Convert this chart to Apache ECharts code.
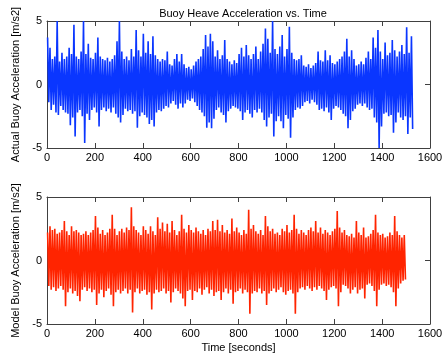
<!DOCTYPE html>
<html><head><meta charset="utf-8">
<script src="https://cdn.jsdelivr.net/npm/echarts@6/dist/echarts.min.js"></script>
<style>html,body{margin:0;padding:0;background:#fff}#c{width:446px;height:358px}</style>
</head><body><div id="c"></div>
<script>
// Bin width in seconds for the envelope readings below
var binSeconds = 10;
var xTicks = [0,200,400,600,800,1000,1200,1400,1600];
var yTicks = [-5,0,5];

// Actual buoy acceleration: per-10s upper peaks (t = 0,10,...,1520)
var actualMax = [3.7,2.9,2.0,2.2,5.0,1.8,2.5,2.0,2.2,2.9,2.4,4.7,2.2,2.0,2.6,5.0,2.4,3.2,2.1,2.0,
2.5,3.7,2.2,2.0,1.9,2.1,1.8,2.0,2.3,3.4,5.0,2.6,2.0,2.2,1.9,2.8,2.2,4.3,2.7,2.2,
4.0,2.5,3.4,2.4,3.8,2.3,2.0,1.8,2.0,1.9,2.6,1.6,1.5,2.0,2.4,1.8,2.4,1.6,1.3,1.4,
1.2,1.5,1.8,2.0,2.2,2.8,3.9,3.0,4.0,3.4,2.2,2.7,2.0,2.3,3.5,2.0,1.8,1.6,1.9,1.7,
2.4,2.9,2.2,3.1,2.3,2.0,2.4,3.0,2.0,2.6,3.2,4.4,3.6,2.5,5.0,2.8,2.4,3.0,3.9,2.2,
2.8,4.55,2.5,2.0,1.9,2.0,2.3,1.5,1.4,1.6,1.3,1.5,1.7,2.6,1.9,1.8,2.7,1.9,2.3,1.7,
1.6,1.8,2.0,2.2,2.6,3.6,2.2,2.7,2.0,1.5,1.6,1.8,1.6,2.1,2.6,2.0,3.7,2.9,4.3,2.6,
2.0,3.3,2.3,2.5,3.5,2.7,2.2,2.6,3.1,2.4,4.5,2.5,3.8];
// Actual buoy acceleration: per-10s lower peaks
var actualMin = [-1.4,-2.0,-1.6,-2.2,-2.4,-1.7,-2.0,-2.2,-2.3,-3.2,-2.6,-4.1,-2.2,-2.0,-2.5,-4.6,-2.3,-2.8,-2.0,-1.8,
-2.2,-3.3,-2.0,-1.8,-2.1,-1.9,-2.2,-1.8,-2.3,-2.6,-3.0,-2.4,-1.9,-2.1,-2.0,-2.3,-2.1,-3.4,-2.5,-2.2,
-2.4,-2.6,-3.1,-2.8,-3.3,-2.2,-2.0,-2.1,-1.9,-1.7,-1.8,-1.5,-1.3,-1.6,-1.9,-1.5,-1.8,-1.5,-1.2,-1.3,
-1.1,-1.4,-1.7,-2.0,-2.2,-2.5,-3.4,-3.0,-3.45,-2.7,-2.0,-1.8,-2.2,-2.4,-3.0,-2.1,-1.9,-1.7,-1.8,-1.9,
-2.1,-2.8,-2.2,-2.0,-2.3,-2.6,-2.0,-2.2,-1.9,-2.2,-2.8,-3.3,-2.6,-2.3,-4.1,-2.9,-2.5,-2.9,-3.45,-2.4,
-2.7,-4.2,-2.6,-2.0,-1.8,-1.9,-1.7,-1.4,-1.3,-1.5,-1.2,-1.4,-1.6,-2.0,-1.9,-2.1,-1.8,-2.2,-2.8,-1.9,
-1.7,-1.8,-2.0,-2.3,-2.5,-3.45,-2.8,-2.1,-1.9,-1.6,-1.5,-1.7,-1.5,-1.8,-2.0,-1.9,-2.6,-3.0,-5.0,-3.3,
-2.3,-2.2,-2.5,-2.4,-3.8,-3.0,-2.2,-2.6,-2.8,-2.5,-3.9,-2.6,-3.5];

// Model buoy acceleration: per-10s upper peaks (t = 0,10,...,1490)
var modelMax = [2.2,2.7,2.4,2.5,2.1,2.2,2.4,3.1,2.3,2.0,2.7,2.3,2.4,2.2,2.0,2.1,2.3,2.0,2.2,2.4,
3.5,2.6,2.1,2.4,2.0,2.2,2.5,3.6,2.5,2.0,2.3,2.5,2.2,2.6,2.4,4.2,2.7,2.4,2.2,2.0,
2.7,2.4,2.1,2.7,2.3,2.0,3.4,2.5,3.0,2.3,2.9,2.2,3.1,2.4,2.0,2.3,3.6,2.5,2.2,2.8,
2.4,2.2,2.6,2.3,2.1,2.4,2.0,2.5,2.3,3.1,2.4,3.2,2.3,2.8,2.2,2.4,2.1,3.3,2.3,2.6,
2.2,2.0,2.4,2.1,4.0,2.5,2.8,2.3,2.1,2.4,2.0,3.5,2.7,2.3,2.5,2.1,2.2,2.0,2.5,2.3,
2.8,2.2,2.4,3.6,2.5,2.1,2.4,2.2,2.0,2.4,2.6,2.3,3.1,2.2,2.6,2.1,2.4,2.2,2.0,2.3,
2.5,3.9,2.6,2.2,2.4,2.0,1.9,2.1,1.8,3.1,2.2,2.0,2.6,1.8,1.9,2.1,2.4,3.6,2.2,2.0,
2.1,1.8,1.9,2.2,2.0,3.5,2.3,2.0,1.8,2.0];
// Model buoy acceleration: per-10s lower peaks
var modelMin = [-2.0,-2.3,-2.1,-2.4,-2.2,-2.0,-2.3,-3.6,-2.5,-2.2,-2.6,-2.4,-2.8,-3.2,-2.3,-2.1,-2.4,-2.2,-2.5,-2.3,
-3.5,-2.6,-2.3,-2.9,-2.4,-2.2,-2.7,-3.6,-2.5,-2.3,-2.6,-2.4,-2.2,-2.6,-2.3,-4.1,-2.5,-2.2,-2.6,-2.4,
-2.3,-2.7,-2.5,-3.85,-2.6,-2.3,-2.5,-2.4,-2.2,-2.6,-2.4,-3.3,-2.5,-2.2,-2.4,-2.6,-3.0,-3.6,-2.4,-2.3,
-3.1,-2.4,-2.5,-2.2,-2.7,-2.3,-2.1,-2.6,-2.3,-2.8,-2.5,-2.4,-3.1,-2.5,-2.2,-2.6,-2.3,-3.4,-2.5,-2.4,
-2.2,-2.6,-2.3,-2.5,-4.2,-2.6,-2.4,-2.5,-2.2,-2.6,-2.4,-3.5,-2.6,-2.4,-2.2,-2.5,-2.3,-2.1,-2.5,-2.7,
-2.4,-2.3,-2.6,-4.2,-2.5,-2.2,-2.1,-2.3,-2.0,-2.2,-2.4,-2.1,-2.3,-2.0,-2.2,-2.4,-3.1,-2.3,-2.1,-2.0,
-2.2,-3.6,-2.5,-1.9,-2.0,-2.2,-2.6,-2.3,-2.1,-2.6,-2.3,-2.2,-3.0,-1.9,-1.8,-2.0,-2.4,-3.6,-2.3,-1.9,
-1.8,-2.0,-1.9,-2.1,-2.5,-3.6,-2.2,-1.8,-1.6,-1.5];

function build(maxArr, minArr) {
  var out = [];
  for (var i = 0; i < maxArr.length; i++) {
    out.push([i * binSeconds + binSeconds * 0.25, maxArr[i]]);
    out.push([i * binSeconds + binSeconds * 0.75, minArr[i]]);
  }
  return out;
}

var FONT = 'Liberation Sans';
var AX = '#404040';
function plain(v) { return String(v); }
function xAx(grid, pos, labels, name) {
  return {
    type: 'value', gridIndex: grid, position: pos, min: xTicks[0], max: xTicks[xTicks.length-1], interval: 200,
    axisLine: {show: true, onZero: false, lineStyle: {color: AX, width: 1}},
    axisTick: {show: true, inside: true, length: 5, lineStyle: {color: AX}},
    axisLabel: {show: labels, margin: 4, color: '#000', fontFamily: FONT, fontSize: 11, formatter: plain},
    splitLine: {show: false},
    name: name || '', nameLocation: 'middle', nameGap: 18,
    nameTextStyle: {color: '#000', fontFamily: FONT, fontSize: 11}
  };
}
function yAx(grid, pos, labels, name) {
  return {
    type: 'value', gridIndex: grid, position: pos, min: yTicks[0], max: yTicks[yTicks.length-1], interval: 5,
    axisLine: {show: true, onZero: false, lineStyle: {color: AX, width: 1}},
    axisTick: {show: true, inside: true, length: 5, lineStyle: {color: AX}},
    axisLabel: {show: labels, margin: 5, color: '#000', fontFamily: FONT, fontSize: 11, formatter: plain},
    splitLine: {show: false},
    name: name || '', nameLocation: 'middle', nameGap: 26, nameRotate: 90,
    nameTextStyle: {color: '#000', fontFamily: FONT, fontSize: 11}
  };
}

var chart = echarts.init(document.getElementById('c'), null, {renderer: 'canvas'});
chart.setOption({
  animation: false,
  backgroundColor: '#fff',
  title: {text: 'Buoy Heave Acceleration vs. Time', left: 238, top: 3, textAlign: 'center',
    textStyle: {fontFamily: FONT, fontSize: 11, fontWeight: 'normal', color: '#000'}},
  grid: [
    {left: 47, right: 16, top: 21, height: 127},
    {left: 47, right: 16, top: 197, height: 127}
  ],
  xAxis: [xAx(0, 'bottom', true), xAx(0, 'top', false), xAx(1, 'bottom', true, 'Time [seconds]'), xAx(1, 'top', false)],
  yAxis: [yAx(0, 'left', true, 'Actual Buoy Acceleration [m/s2]'), yAx(0, 'right', false),
          yAx(1, 'left', true, 'Model Buoy Acceleration [m/s2]'), yAx(1, 'right', false)],
  series: [
    {type: 'line', xAxisIndex: 0, yAxisIndex: 0, data: build(actualMax, actualMin), showSymbol: false,
     lineStyle: {color: '#0a36ff', width: 1.6}, sampling: null, z: 1},
    {type: 'line', xAxisIndex: 2, yAxisIndex: 2, data: build(modelMax, modelMin), showSymbol: false,
     lineStyle: {color: '#ff2400', width: 1.6}, sampling: null, z: 1}
  ]
});
</script></body></html>
